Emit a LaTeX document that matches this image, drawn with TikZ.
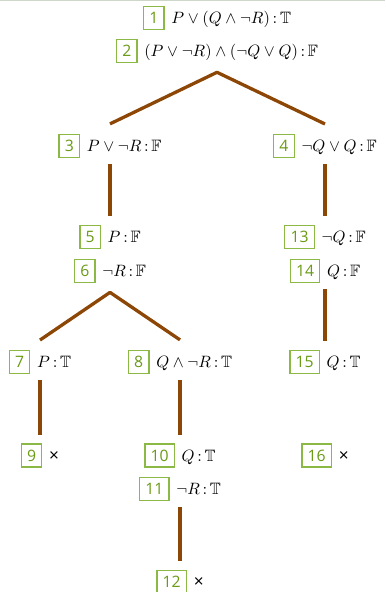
\documentclass[tikz,border=0pt]{standalone}
\usepackage{amssymb}
\usepackage{fontspec}
\setmainfont{Open Sans}
\usetikzlibrary{positioning,
	calc}
\definecolor{lblframe}{RGB}{140,185,70}
\definecolor{lbltext}{RGB}{105,155,20}
\definecolor{branchbrown}{RGB}{140,70,5}
\definecolor{rulegray}{RGB}{205,214,200}
\newcommand{\lbl}[1]{{\fontsize{10.5}{12}\selectfont\setlength{\fboxsep}{3.4pt}\setlength{\fboxrule}{0.8pt}\fcolorbox{lblframe}{white}{\textcolor{lbltext}{#1}}}\hspace{4.5pt}}
\newcommand{\sgnd}[2]{{\fontsize{11}{13}\selectfont$#1\,{:}\,\mathbb{#2}$}}
\newcommand{\closed}{{\fontsize{11.5}{13}\selectfont×}}
\tikzset{
	row/.style={inner sep=0pt},
	branch/.style={draw=branchbrown, line width=2.2pt, line join=round},
	cutshort/.style={shorten <=4pt, shorten >=5.5pt}
}

\begin{document}
\begin{tikzpicture}[x=0.6667pt, y=-0.6667pt]
	\useasboundingbox (0,0) rectangle (385,592);
	\draw[rulegray, line width=1pt] (0,0.5) -- (385,0.5);
	% trunk
	\node[row] (r1) at (217,18) {\lbl{1}\sgnd{P \vee (Q \wedge \neg R)}{T}};
	\node[row] (r2) at (217,51) {\lbl{2}\sgnd{(P \vee \neg R) \wedge (\neg Q \vee Q)}{F}};
	% first split
	\node[row] (r3) at (110,146) {\lbl{3}\sgnd{P \vee \neg R}{F}};
	\node[row] (r4) at (325,146) {\lbl{4}\sgnd{\neg Q \vee Q}{F}};
	\node[row] (r5) at (110,237) {\lbl{5}\sgnd{P}{F}};
	\node[row] (r6) at (110,271) {\lbl{6}\sgnd{\neg R}{F}};
	\node[row] (r13) at (325,237) {\lbl{13}\sgnd{\neg Q}{F}};
	\node[row] (r14) at (325,271) {\lbl{14}\sgnd{Q}{F}};
	% second split
	\node[row] (r7) at (40,362) {\lbl{7}\sgnd{P}{T}};
	\node[row] (r8) at (180,362) {\lbl{8}\sgnd{Q \wedge \neg R}{T}};
	\node[row] (r15) at (325,362) {\lbl{15}\sgnd{Q}{T}};
	\node[row] (r9) at (40,455.5) {\lbl{9}\closed};
	\node[row] (r10) at (180,455.5) {\lbl{10}\sgnd{Q}{T}};
	\node[row] (r11) at (180,489) {\lbl{11}\sgnd{\neg R}{T}};
	\node[row] (r16) at (325,455.5) {\lbl{16}\closed};
	\node[row] (r12) at (180,582) {\lbl{12}\closed};
	% branches
	\coordinate (f1) at ([yshift=-6pt]r2.south);
	\draw[branch] ([yshift=6.5pt]r3.north) -- (f1) -- ([yshift=6.5pt]r4.north);
	\coordinate (f2) at ([yshift=-6pt]r6.south);
	\draw[branch] ([yshift=6.5pt]r7.north) -- (f2) -- ([yshift=6.5pt]r8.north);
	\draw[branch, cutshort] (r3) -- (r5);
	\draw[branch, cutshort] (r4) -- (r13);
	\draw[branch, cutshort] (r14) -- (r15);
	\draw[branch, cutshort] (r7) -- (r9);
	\draw[branch, cutshort] (r8) -- (r10);
	\draw[branch, cutshort] (r11) -- (r12);
\end{tikzpicture}
\end{document}
